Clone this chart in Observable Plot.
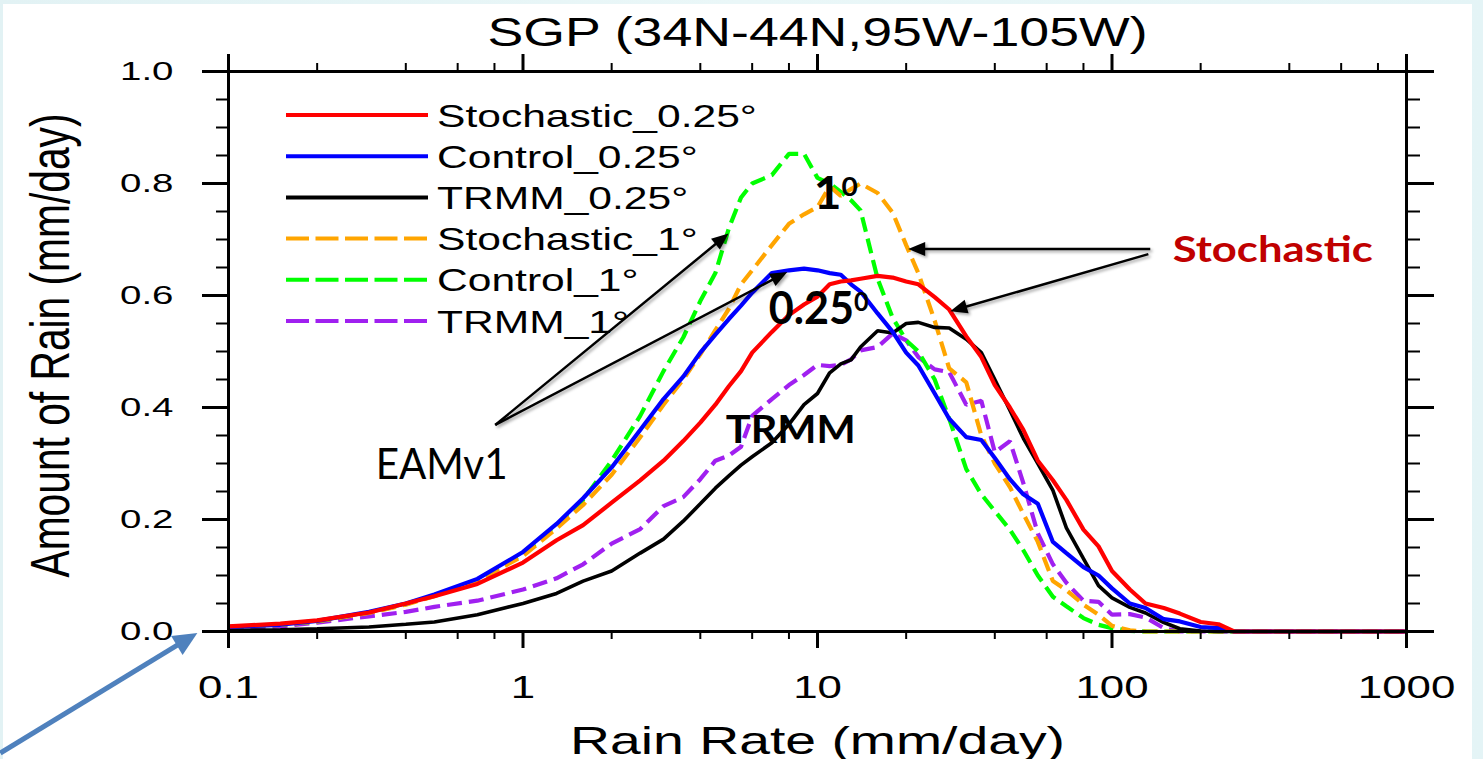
<!DOCTYPE html>
<html><head><meta charset="utf-8">
<script src="https://cdn.jsdelivr.net/npm/d3@7"></script>
<script src="https://cdn.jsdelivr.net/npm/@observablehq/plot@0.6"></script>
<style>
html,body{margin:0;padding:0;overflow:hidden;width:1483px;height:759px;background:linear-gradient(90deg,#e2f2f4,#eaf7f8 50%,#e4f4f6);}
#card{position:absolute;left:3px;top:4px;width:1469px;height:755px;background:#fff;}
</style></head><body><div id="card"></div>
<script>
// ---------- data ----------
const rainRate = [0.1,0.15,0.2,0.3,0.4,0.5,0.7,1,1.3,1.6,2,2.5,3,3.5,4,4.5,5,5.5,6,7,8,9,10,11,12,13,14,16,18,20,22,25,28,32,36,40,45,50,56,63,70,80,90,100,115,130,150,170,200,230,260,300,1000];
const seriesNames = ["Stochastic_0.25°","Control_0.25°","TRMM_0.25°","Stochastic_1°","Control_1°","TRMM_1°"];
const stochastic025 = [0.009,0.014,0.02,0.034,0.05,0.063,0.085,0.123,0.163,0.19,0.23,0.27,0.305,0.34,0.373,0.405,0.438,0.465,0.498,0.535,0.565,0.584,0.598,0.62,0.625,0.627,0.63,0.635,0.632,0.625,0.62,0.597,0.575,0.527,0.49,0.44,0.4,0.36,0.305,0.27,0.235,0.182,0.152,0.108,0.075,0.05,0.042,0.032,0.017,0.013,0,0,0];
const control025 = [0.008,0.012,0.019,0.035,0.05,0.066,0.094,0.142,0.192,0.238,0.293,0.36,0.415,0.455,0.498,0.53,0.558,0.582,0.605,0.64,0.645,0.648,0.645,0.64,0.637,0.62,0.607,0.568,0.535,0.498,0.475,0.425,0.38,0.347,0.342,0.31,0.272,0.245,0.228,0.16,0.14,0.115,0.1,0.077,0.05,0.042,0.022,0.018,0.008,0.006,0,0,0];
const trmm025 = [0.002,0.003,0.005,0.008,0.013,0.017,0.03,0.05,0.068,0.09,0.108,0.14,0.165,0.197,0.228,0.256,0.278,0.297,0.312,0.337,0.37,0.405,0.425,0.462,0.478,0.485,0.508,0.537,0.533,0.55,0.552,0.543,0.542,0.522,0.498,0.45,0.395,0.345,0.3,0.252,0.185,0.13,0.082,0.06,0.043,0.033,0.016,0.005,0.001,0,0,0,0];
const stochastic1 = [0.008,0.012,0.018,0.033,0.048,0.063,0.09,0.135,0.184,0.226,0.28,0.347,0.405,0.45,0.495,0.538,0.576,0.62,0.645,0.69,0.728,0.745,0.758,0.795,0.778,0.79,0.8,0.783,0.748,0.69,0.64,0.555,0.47,0.445,0.35,0.3,0.258,0.21,0.16,0.09,0.074,0.048,0.03,0.01,0.002,0,0,0,0,0,0,0,0];
const control1 = [0.008,0.012,0.018,0.034,0.049,0.064,0.092,0.138,0.19,0.235,0.305,0.385,0.465,0.525,0.59,0.64,0.72,0.775,0.8,0.815,0.853,0.853,0.81,0.8,0.785,0.77,0.752,0.63,0.56,0.52,0.5,0.45,0.38,0.29,0.245,0.215,0.182,0.145,0.1,0.062,0.045,0.024,0.012,0.006,0.001,0,0,0,0,0,0,0,0];
const trmm1 = [0.005,0.009,0.016,0.027,0.035,0.044,0.055,0.075,0.095,0.12,0.157,0.183,0.224,0.24,0.272,0.305,0.314,0.33,0.385,0.415,0.44,0.458,0.476,0.474,0.476,0.486,0.502,0.508,0.532,0.52,0.49,0.468,0.463,0.405,0.412,0.32,0.34,0.265,0.175,0.12,0.087,0.055,0.053,0.03,0.031,0.025,0.006,0,0,0,0,0,0];
const seriesValues = [stochastic025, control025, trmm025, stochastic1, control1, trmm1];

const xMajor = [0.1,1,10,100,1000];
const xMinor = [0.2,0.4,0.6,0.8,2,4,6,8,20,40,60,80,200,400,600,800];
const yMajor = [0,0.2,0.4,0.6,0.8,1.0];
const yMinor = [0.05,0.1,0.15,0.25,0.3,0.35,0.45,0.5,0.55,0.65,0.7,0.75,0.85,0.9,0.95];

// ---------- styles ----------
const colors = ["#ff0000","#0000ff","#000000","#ffa500","#00ff00","#a020f0"];
const dashed = [false,false,false,true,true,true];
const widths = [4.2,4.2,3.6,4.2,4.2,4.2];
const drawOrder = [5,4,3,2,1,0];
const NCL = "'Liberation Sans', Arial, Helvetica, sans-serif";
const PPT = "Lato, 'Open Sans', 'DejaVu Sans', sans-serif";

const rows = seriesValues.map(vals => rainRate.map((x, i) => ({x, y: vals[i]})));

function legendMark(index, scales, values, dims) {
  const g = d3.create("svg:g").attr("class", "legend");
  seriesNames.forEach((name, i) => {
    const y = dims.marginTop + 44 + i * 41.2;
    const x0 = dims.marginLeft + 58;
    g.append("line").attr("x1", x0).attr("x2", x0 + 142).attr("y1", y).attr("y2", y)
      .attr("stroke", colors[i]).attr("stroke-width", 4)
      .attr("stroke-dasharray", dashed[i] ? "23,6.5" : null);
    g.append("text").attr("x", x0 + 151).attr("y", y).attr("dy", "0.36em")
      .attr("text-anchor", "start")
      .attr("font-size", 32).attr("font-family", NCL).attr("fill", "black").text(name);
  });
  return g.node();
}

function arrowMark(list, {color, width, headLen, headHalf, shadow}) {
  return (index, scales, values, dims) => {
    const g = d3.create("svg:g");
    if (shadow) g.attr("style", "filter: drop-shadow(2px 2px 1.5px rgba(0,0,0,0.35))");
    for (const a of list) {
      const x1 = scales.x(a[0]), y1 = scales.y(a[1]), x2 = scales.x(a[2]), y2 = scales.y(a[3]);
      const dx = x2 - x1, dy = y2 - y1, L = Math.hypot(dx, dy), ux = dx / L, uy = dy / L;
      const bx = x2 - ux * headLen, by = y2 - uy * headLen;
      g.append("line").attr("x1", x1).attr("y1", y1).attr("x2", bx + ux).attr("y2", by + uy)
        .attr("stroke", color).attr("stroke-width", width);
      g.append("path").attr("d", `M${x2},${y2}L${bx - uy * headHalf},${by + ux * headHalf}L${bx + uy * headHalf},${by - ux * headHalf}Z`)
        .attr("fill", color);
    }
    return g.node();
  };
}

const chart = Plot.plot({
  width: 1469, height: 755,
  marginLeft: 225, marginRight: 66, marginTop: 67, marginBottom: 128,
  style: {background: "white", fontFamily: NCL, color: "black", overflow: "visible"},
  x: {type: "log", domain: [0.1, 1000], axis: null},
  y: {domain: [0, 1], axis: null},
  marks: [
    ...drawOrder.map(i => Plot.line(rows[i], {x: "x", y: "y", stroke: colors[i], strokeWidth: widths[i],
      strokeDasharray: dashed[i] ? "15,7" : null, strokeLinejoin: "miter", strokeLinecap: "butt"})),
    Plot.frame({stroke: "black", strokeWidth: 3}),
    Plot.axisX(xMajor, {anchor: "bottom", tickSize: 17, tickPadding: 27, strokeWidth: 3, fontSize: 32, tickFormat: d => String(d), label: null}),
    Plot.axisX(xMinor, {anchor: "bottom", tickSize: 8, strokeWidth: 2, tickFormat: () => "", label: null}),
    Plot.axisX(xMajor, {anchor: "top", tickSize: 18, strokeWidth: 3, tickFormat: () => "", label: null}),
    Plot.axisX(xMinor, {anchor: "top", tickSize: 9, strokeWidth: 2, tickFormat: () => "", label: null}),
    Plot.axisY(yMajor, {anchor: "left", tickSize: 26, tickPadding: 29, strokeWidth: 3, fontSize: 26.5, tickFormat: d => d.toFixed(1), label: null}),
    Plot.axisY(yMinor, {anchor: "left", tickSize: 12, strokeWidth: 2, tickFormat: () => "", label: null}),
    Plot.axisY(yMajor, {anchor: "right", tickSize: 27, strokeWidth: 3, tickFormat: () => "", label: null}),
    Plot.axisY(yMinor, {anchor: "right", tickSize: 13, strokeWidth: 2, tickFormat: () => "", label: null}),
    Plot.text(["SGP (34N-44N,95W-105W)"], {frameAnchor: "top", dy: -26, lineAnchor: "bottom", textAnchor: "middle", fontSize: 40, fill: "black"}),
    Plot.text(["Rain Rate (mm/day)"], {frameAnchor: "bottom", dy: 122, lineAnchor: "bottom", textAnchor: "middle", fontSize: 39, fill: "black"}),
    Plot.text(["Amount of Rain (mm/day)"], {frameAnchor: "left", dx: -160, dy: -6, rotate: -90, lineAnchor: "bottom", textAnchor: "middle", fontSize: 56, fill: "black"}),
    legendMark,
    // annotations
    Plot.text([{x: 160.9, y: 0.659, t: "Stochastic"}], {x: "x", y: "y", text: "t", textAnchor: "start", lineAnchor: "bottom", fontFamily: PPT, fontWeight: "bold", fontSize: 36, fill: "#c00000"}),
    Plot.text([{x: 0.316, y: 0.273, t: "EAMv1"}], {x: "x", y: "y", text: "t", textAnchor: "start", lineAnchor: "bottom", fontFamily: PPT, fontSize: 42, fill: "black"}),
    Plot.text([{x: 4.88, y: 0.336, t: "TRMM"}], {x: "x", y: "y", text: "t", textAnchor: "start", lineAnchor: "bottom", fontFamily: PPT, fontWeight: "bold", fontSize: 39, fill: "black"}),
    Plot.text([{x: 6.83, y: 0.55, t: "0.25⁰"}], {x: "x", y: "y", text: "t", textAnchor: "start", lineAnchor: "bottom", fontFamily: PPT, fontWeight: "bold", fontSize: 46, fill: "black"}),
    Plot.text([{x: 9.71, y: 0.755, t: "1⁰"}], {x: "x", y: "y", text: "t", textAnchor: "start", lineAnchor: "bottom", fontFamily: PPT, fontWeight: "bold", fontSize: 46, fill: "black"}),
    arrowMark([[135.4, 0.682, 20.4, 0.682], [133.4, 0.673, 28.35, 0.571], [0.808, 0.368, 5.01, 0.710], [0.808, 0.368, 7.93, 0.641]],
      {color: "black", width: 2.5, headLen: 17, headHalf: 7, shadow: true}),
    arrowMark([[0.01686, -0.2179, 0.0787, -0.0036]], {color: "#4f81bd", width: 5, headLen: 24, headHalf: 11, shadow: false})
  ]
});

document.getElementById("card").appendChild(chart);

// horizontal stretch of the text to mimic the original's aspect
const targets = {"SGP (34N-44N,95W-105W)": 660, "Rain Rate (mm/day)": 495, "Amount of Rain (mm/day)": 464,
  "Stochastic": 200, "EAMv1": 132, "TRMM": 130, "0.25⁰": 100, "1⁰": 44};
chart.querySelectorAll("text").forEach(t => {
  const s = t.textContent;
  if (!s) return;
  // superscript zero as a small raised numeral
  if (s.endsWith("⁰")) {
    t.textContent = s.slice(0, -1);
    const sup = document.createElementNS("http://www.w3.org/2000/svg", "tspan");
    sup.setAttribute("font-size", "27");
    sup.setAttribute("dy", "-13");
    sup.textContent = "0";
    t.appendChild(sup);
  }
  const L = t.getComputedTextLength();
  let target;
  if (targets[s] != null) target = targets[s];
  else {
    const label = (t.parentNode && t.parentNode.getAttribute && t.parentNode.getAttribute("aria-label")) || "";
    const f = label.startsWith("x-axis") ? 1.37 : label.startsWith("y-axis") ? 1.45 : 1.33;
    target = L * f;
  }
  t.setAttribute("textLength", target);
  t.setAttribute("lengthAdjust", "spacingAndGlyphs");
});
</script></body></html>
